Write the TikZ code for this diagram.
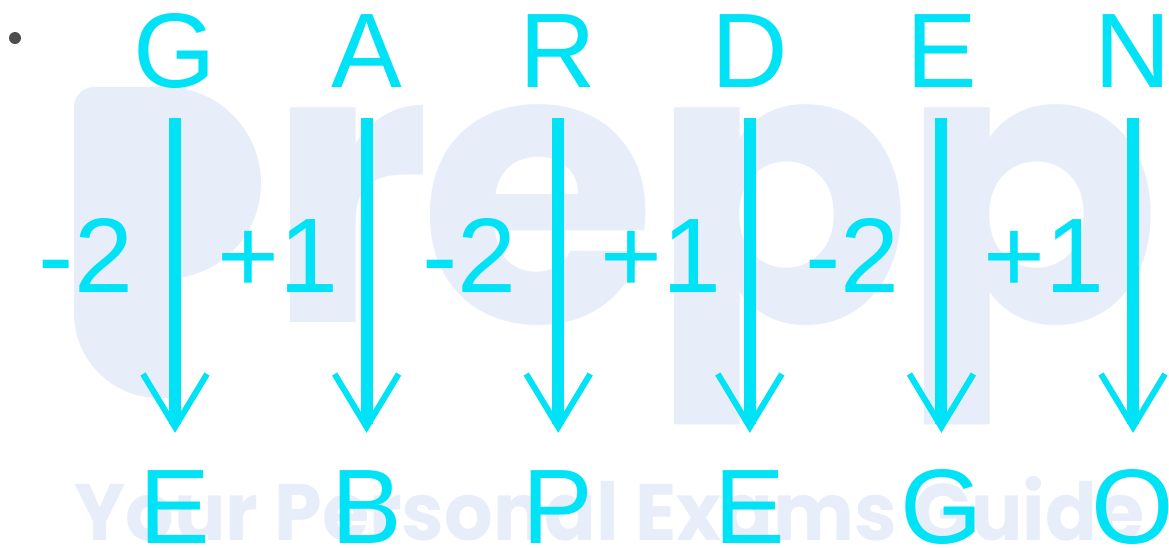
\documentclass[tikz,border=0pt]{standalone}
\usepackage{fontspec}
\setmainfont{Liberation Sans}
\newfontfamily\wmfont{Poppins}
\usetikzlibrary{arrows.meta}
\definecolor{cy}{RGB}{0,226,245}
\definecolor{wm}{RGB}{231,238,250}
\definecolor{bul}{RGB}{77,77,77}
\begin{document}
\begin{tikzpicture}[x=1pt,y=1pt,
  lt/.style={text=cy, font=\fontsize{106}{106}\selectfont, inner sep=0pt, text height=76pt, text depth=0pt, anchor=base},
  lbl/.style={text=cy, font=\fontsize{106}{106}\selectfont, inner sep=0pt, anchor=base},
  arr/.style={draw=cy, line width=12pt, -{Straight Barb[length=53pt,width=64pt,line width=6pt]}, shorten <=31pt, shorten >=34pt},
  wmtext/.style={text=wm, inner sep=0pt, anchor=base west},
  wmbig/.style={wmtext, font=\wmfont\bfseries\fontsize{385}{385}\selectfont}]
\useasboundingbox (0,0) rectangle (1169,-547);
% watermark
\fill[wm] (94,-87) -- (165,-87) arc[start angle=90,end angle=-90,radius=96] -- (172,-279) -- (172,-398) -- (159,-398) arc[start angle=-90,end angle=-180,radius=85] -- (74,-107) arc[start angle=180,end angle=90,radius=20] -- cycle;
\node[wmbig] (wr) at (266,-322) {r};
\node[wmbig] (we) at (419,-322) {e};
\node[wmbig] (wp1) at (650,-322) {p};
\node[wmbig] (wp2) at (900,-322) {p};
\node[wmtext, font=\wmfont\bfseries\fontsize{80}{80}\selectfont] (wmg) at (74,-540) {\scalebox{0.955}[1]{Your Personal Exams Guide}};
% bullet
\fill[bul] (15,-38) circle[radius=6];
% top letters
\node[lt] (t1) at (175,-87) {G};
\node[lt] (t2) at (366.6,-87) {A};
\node[lt] (t3) at (558.2,-87) {R};
\node[lt] (t4) at (749.8,-87) {D};
\node[lt] (t5) at (941.4,-87) {E};
\node[lt] (t6) at (1133,-87) {N};
% bottom letters
\node[lt] (b1) at (175,-543) {E};
\node[lt] (b2) at (366.6,-543) {B};
\node[lt] (b3) at (558.2,-543) {P};
\node[lt] (b4) at (749.8,-543) {E};
\node[lt] (b5) at (941.4,-543) {G};
\node[lt] (b6) at (1133,-543) {O};
% arrows
\foreach \i in {1,...,6} \draw[arr] (t\i) -- (b\i);
% labels
\node[lbl] (l1) at (86,-292) {-2};
\node[lbl] (l2) at (277.6,-292) {+1};
\node[lbl] (l3) at (469.2,-292) {-2};
\node[lbl] (l4) at (660.8,-292) {+1};
\node[lbl] (l5) at (852.4,-292) {-2};
\node[lbl] (l6) at (1044,-292) {+1};
\end{tikzpicture}
\end{document}
